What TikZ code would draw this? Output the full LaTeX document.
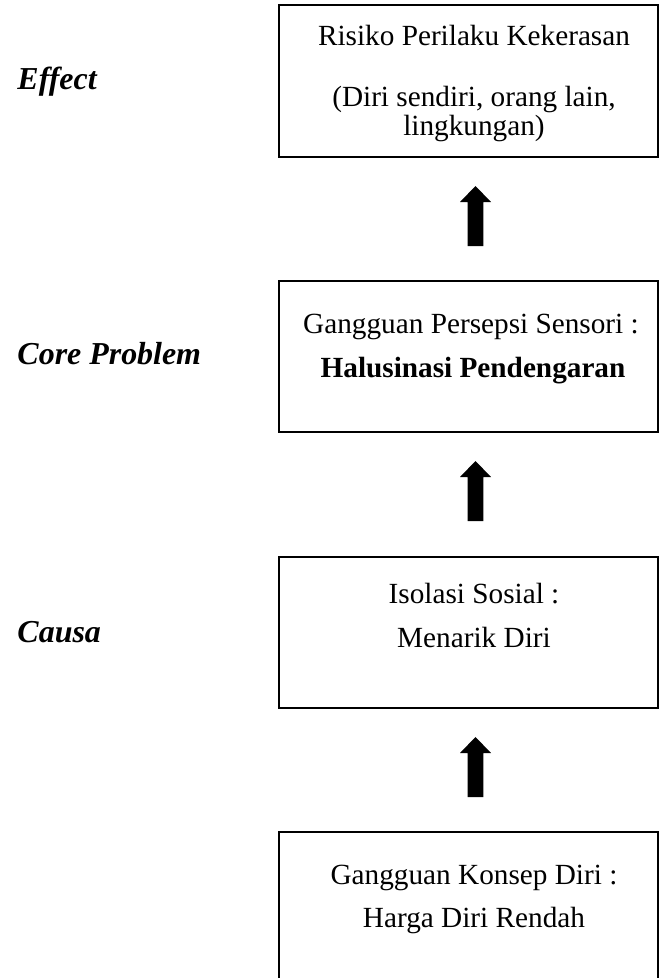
\documentclass[tikz,border=0pt]{standalone}
\usepackage{fontspec}
\setmainfont{Liberation Serif}
\usetikzlibrary{fit}
\begin{document}
\begin{tikzpicture}[x=0.41026pt,y=-0.41026pt,
  box/.style={draw=black,line width=1.1pt,inner sep=0pt},
  txt/.style={anchor=base,inner sep=0pt,font=\fontsize{12}{14}\selectfont},
  lbl/.style={anchor=base west,inner sep=0pt,font=\fontsize{13.1}{15}\selectfont\bfseries\itshape},
  blockarrow/.style={fill=black}]
\useasboundingbox (0,0) rectangle (659,978);
\clip (0,0) rectangle (659,978);
% boxes
\node (b1) [box, fit={(279,5) (658,157)}] {};
\node (b2) [box, fit={(279,281) (658,432)}] {};
\node (b3) [box, fit={(279,557) (658,708)}] {};
\node (b4) [box, fit={(279,832) (658,1000)}] {};
% box texts
\node (t1a) [txt] at (474,45) {Risiko Perilaku Kekerasan};
\node (t1b) [txt] at (474,106) {(Diri sendiri, orang lain,};
\node (t1c) [txt] at (474,135) {lingkungan)};
\node (t2a) [txt] at (471,333) {Gangguan Persepsi Sensori :};
\node (t2b) [txt,font=\fontsize{12}{14}\selectfont\bfseries] at (473,377) {Halusinasi Pendengaran};
\node (t3a) [txt] at (474,603) {Isolasi Sosial :};
\node (t3b) [txt] at (474,647) {Menarik Diri};
\node (t4a) [txt] at (474,884) {Gangguan Konsep Diri :};
\node (t4b) [txt] at (474,927) {Harga Diri Rendah};
% side labels
\node (l1) [lbl] at (17,89) {Effect};
\node (l2) [lbl] at (17,364) {Core Problem};
\node (l3) [lbl] at (17,642) {Causa};
% block arrows
\coordinate (a1) at (475.5,186);
\coordinate (a2) at (475.5,461);
\coordinate (a3) at (475.5,737);
\foreach \a in {a1,a2,a3}{
  \fill[blockarrow] (\a) -- ++(15.5,16) -- ++(-7.7,0) -- ++(0,44) -- ++(-15.6,0) -- ++(0,-44) -- ++(-7.7,0) -- cycle;
}
\end{tikzpicture}
\end{document}
